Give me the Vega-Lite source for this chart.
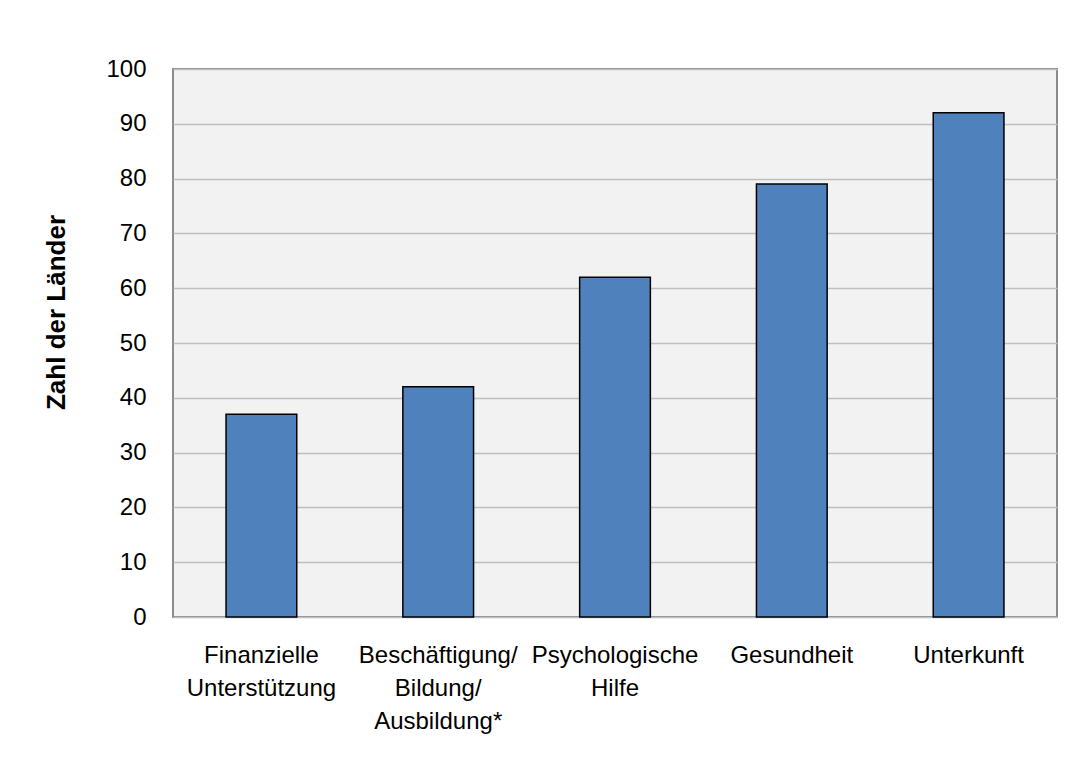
{
  "$schema": "https://vega.github.io/schema/vega-lite/v6.json",
  "width": 884,
  "height": 548,
  "autosize": {"type": "none"},
  "padding": {"left": 173, "top": 69, "right": 35, "bottom": 144},
  "background": "#ffffff",
  "config": {
    "font": "Liberation Sans",
    "view": {"fill": "#F2F2F2", "stroke": "#8C8C8C", "strokeWidth": 2},
    "axis": {"labelFont": "Liberation Sans", "titleFont": "Liberation Sans", "labelColor": "#000000", "titleColor": "#000000"}
  },
  "data": {
    "values": [
      {"kategorie": "Finanzielle|Unterstützung", "anzahl": 37},
      {"kategorie": "Beschäftigung/|Bildung/|Ausbildung*", "anzahl": 42},
      {"kategorie": "Psychologische|Hilfe", "anzahl": 62},
      {"kategorie": "Gesundheit", "anzahl": 79},
      {"kategorie": "Unterkunft", "anzahl": 92}
    ]
  },
  "mark": {"type": "bar", "fill": "#4F81BD", "stroke": "#000000", "strokeWidth": 1.5},
  "encoding": {
    "x": {
      "field": "kategorie",
      "type": "nominal",
      "sort": null,
      "scale": {"paddingInner": 0.6, "paddingOuter": 0.3},
      "axis": {
        "title": null,
        "labelAngle": 0,
        "labelExpr": "split(datum.label, '|')",
        "labelFontSize": 24,
        "labelLineHeight": 33,
        "labelPadding": 26,
        "ticks": false,
        "domain": false,
        "labelLimit": 300
      }
    },
    "y": {
      "field": "anzahl",
      "type": "quantitative",
      "scale": {"domain": [0, 100], "nice": false},
      "axis": {
        "title": "Zahl der Länder",
        "values": [0, 10, 20, 30, 40, 50, 60, 70, 80, 90, 100],
        "labelFontSize": 24,
        "labelPadding": 27,
        "ticks": false,
        "domain": false,
        "grid": true,
        "gridColor": "#BFBFBF",
        "gridWidth": 1.3,
        "titleFontSize": 26,
        "titleFontWeight": "bold",
        "titleX": -104,
        "titleY": 243,
        "titleBaseline": "bottom"
      }
    }
  }
}
